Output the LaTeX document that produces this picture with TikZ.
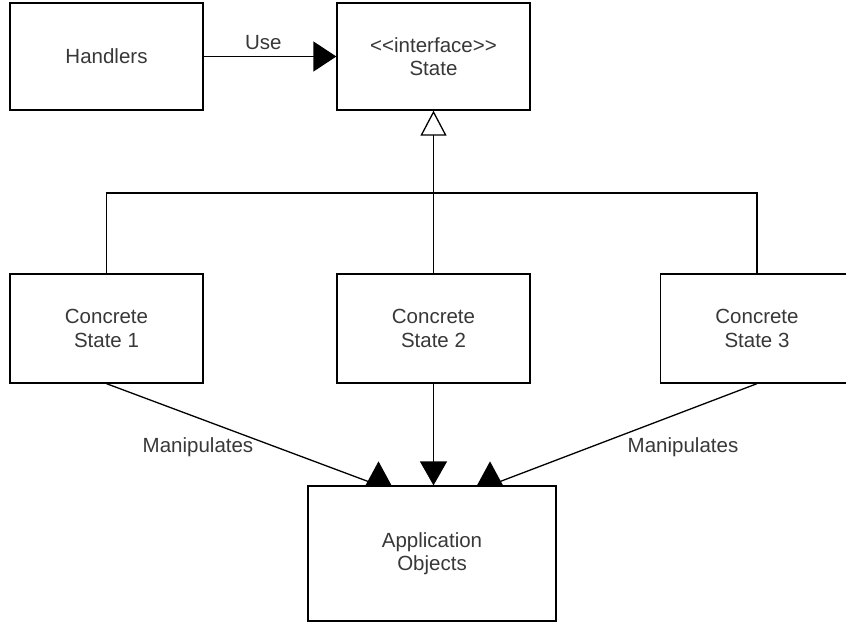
\documentclass[tikz,border=0pt]{standalone}
\usepackage{fontspec}
\setmainfont{Liberation Sans}
\usetikzlibrary{arrows.meta}
\begin{document}
\begin{tikzpicture}[x=1pt,y=1pt,
  every node/.style={font=\fontsize{20.5}{23.5}\selectfont, text=black!78},
  box/.style={draw=black, line width=1.3pt, fill=white, align=center,
              minimum width=193pt, inner sep=0pt},
  conn/.style={draw=black, line width=1.3pt},
  lbl/.style={inner sep=0pt},
]
\clip (0,0) rectangle (846,-622);
\fill[white] (0,0) rectangle (846,-622);

% classes
\node[box, minimum height=107pt] (handlers) at (106.5,-56.5) {Handlers};
\node[box, minimum height=107pt] (state)    at (433.5,-56.5) {<{}<interface>{}>\\State};
\node[box, minimum height=109pt] (cs1) at (106.5,-328.5) {Concrete\\State 1};
\node[box, minimum height=109pt] (cs2) at (433.5,-328.5) {Concrete\\State 2};
\node[box, minimum height=109pt] (cs3) at (757,-328.5)   {Concrete\\State 3};
\node[box, minimum height=135pt, minimum width=248pt] (app) at (432,-553.5) {Application\\Objects};

% Handlers use State
\draw[conn, -{Triangle[length=23pt,width=30pt]}] (handlers.east) -- (state.west)
  node[lbl, pos=0.45, above=6pt] {Use};

% realisation of the interface
\coordinate (bus) at (433.5,-193);
\draw[conn] (cs1.north) |- (bus) -| (cs3.north);
\draw[conn, -{Triangle[open,length=25pt,width=26pt]}] (cs2.north) -- (state.south);

% manipulation of the application objects
\coordinate (appL) at ([xshift=-53.5pt]app.north);
\coordinate (appR) at ([xshift=58pt]app.north);
\draw[conn] (cs1.south) -- (appL);
\draw[conn] (cs3.south) -- (appR);
\fill[black] ([yshift=24pt]appL) -- ([xshift=-13pt]appL) -- ([xshift=13pt]appL) -- cycle;
\fill[black] ([yshift=24pt]appR) -- ([xshift=-13pt]appR) -- ([xshift=13pt]appR) -- cycle;
\draw[conn, -{Triangle[length=24pt,width=27pt]}] (cs2.south) -- (cs2.south |- app.north);
\node[lbl] (m1) at (198,-447) {Manipulates};
\node[lbl] (m3) at (683,-447) {Manipulates};
\end{tikzpicture}
\end{document}
